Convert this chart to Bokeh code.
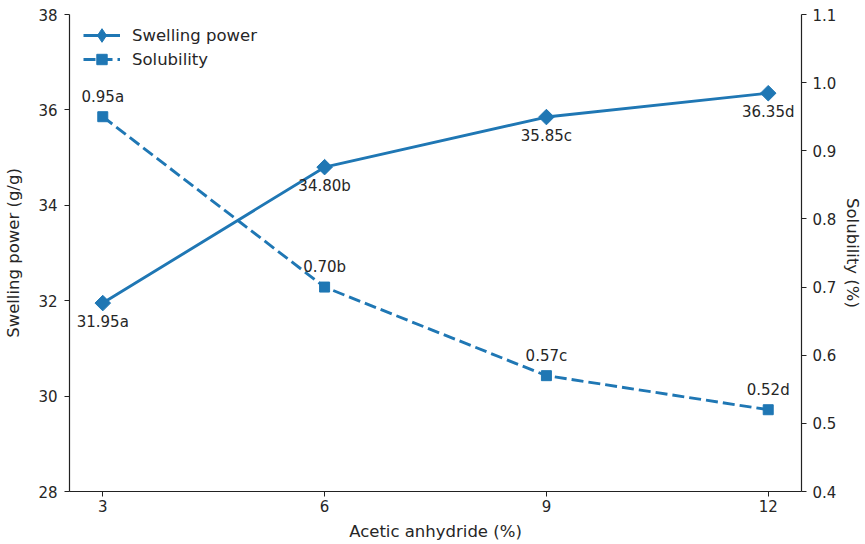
import numpy as np
from bokeh.plotting import figure
from bokeh.models import (Range1d, LinearAxis, FixedTicker, ColumnDataSource, Legend, LegendItem,
                          PrintfTickFormatter)
from bokeh.core.properties import value
from bokeh.embed import file_html
from bokeh.resources import INLINE

# ---- data ----
acetic = [3, 6, 9, 12]
swelling = [31.95, 34.80, 35.85, 36.35]
solubility = [0.95, 0.70, 0.57, 0.52]
swell_labels = ["31.95a", "34.80b", "35.85c", "36.35d"]
sol_labels = ["0.95a", "0.70b", "0.57c", "0.52d"]
x_ticks = [3, 6, 9, 12]
left_ticks = [28, 30, 32, 34, 36, 38]
right_ticks = [0.4, 0.5, 0.6, 0.7, 0.8, 0.9, 1.0, 1.1]

FONT = "DejaVu Sans"
BLUE = "#1f77b4"
TXT = "#262626"
TICK_FS = "15px"
LABEL_FS = "16.5px"

p = figure(width=865, height=544, output_backend="svg", toolbar_location=None,
           x_range=Range1d(2.55, 12.45), y_range=Range1d(28, 38),
           min_border_left=69, min_border_right=63, min_border_top=14, min_border_bottom=53)
# "sol" for the solubility axis; "legend_only" keeps the legend's diamond glyph out of the frame
p.extra_y_ranges = {"sol": Range1d(0.4, 1.1), "legend_only": Range1d(0, 1)}
p.outline_line_color = None
p.xgrid.visible = False
p.ygrid.visible = False

def style_axis(ax):
    ax.axis_line_color = "#222222"
    ax.axis_line_width = 1.2
    ax.major_tick_line_color = "#222222"
    ax.major_tick_out = 5
    ax.major_tick_in = 0
    ax.minor_tick_line_color = None
    ax.major_label_text_font = FONT
    ax.major_label_text_font_size = TICK_FS
    ax.major_label_text_color = TXT
    ax.axis_label_text_font = FONT
    ax.axis_label_text_font_size = LABEL_FS
    ax.axis_label_text_font_style = "normal"
    ax.axis_label_text_color = TXT

p.xaxis.ticker = FixedTicker(ticks=x_ticks)
p.xaxis.axis_label = "Acetic anhydride (%)"
style_axis(p.xaxis[0])
p.xaxis.major_label_standoff = 3
p.xaxis.axis_label_standoff = 7
p.yaxis.ticker = FixedTicker(ticks=left_ticks)
p.yaxis.axis_label = "Swelling power (g/g)"
style_axis(p.yaxis[0])
p.yaxis.major_label_standoff = 7
p.yaxis.axis_label_standoff = 12

ax2 = LinearAxis(y_range_name="sol", ticker=FixedTicker(ticks=right_ticks),
                 formatter=PrintfTickFormatter(format="%.1f"), axis_label="Solubility (%)")
style_axis(ax2)
ax2.major_label_standoff = 6
ax2.axis_label_standoff = 4
p.add_layout(ax2, "right")

src = ColumnDataSource(dict(x=acetic, sw=swelling, so=solubility, swl=swell_labels, sol=sol_labels))

l1 = p.line("x", "sw", source=src, line_color=BLUE, line_width=2.9)
m1 = p.scatter("x", "sw", source=src, marker="square", angle=np.pi / 4, size=11,
               fill_color=BLUE, line_color=BLUE)
leg_d = p.scatter("x", "sw", source=src, y_range_name="legend_only", marker="diamond",
                  size=12, fill_color=BLUE, line_color=BLUE)
l2 = p.line("x", "so", source=src, y_range_name="sol", line_color=BLUE, line_width=2.9, line_dash="12 5")
m2 = p.scatter("x", "so", source=src, y_range_name="sol", marker="square", size=10,
               fill_color=BLUE, line_color=BLUE)

p.text("x", "sw", text="swl", source=src, text_align="center", text_baseline="middle",
       y_offset=19, text_font=value(FONT), text_font_size=TICK_FS, text_color=TXT)
p.text("x", "so", text="sol", source=src, y_range_name="sol", text_align="center",
       text_baseline="middle", y_offset=-20, text_font=value(FONT), text_font_size=TICK_FS, text_color=TXT)

common = dict(margin=0, padding=0, spacing=0, glyph_width=37, label_standoff=12,
              label_text_font=FONT, label_text_font_size=LABEL_FS, label_text_color=TXT,
              border_line_color=None, background_fill_alpha=0)
legend_a = Legend(items=[LegendItem(label="Swelling power", renderers=[l1, leg_d])],
                  location=(14, 439), glyph_height=34, label_height=34, **common)
legend_b = Legend(items=[LegendItem(label="Solubility", renderers=[l2, m2])],
                  location=(14, 419), glyph_height=26, label_height=26, **common)
p.add_layout(legend_a)
p.add_layout(legend_b)

open("out.html", "w").write(file_html(p, INLINE))
